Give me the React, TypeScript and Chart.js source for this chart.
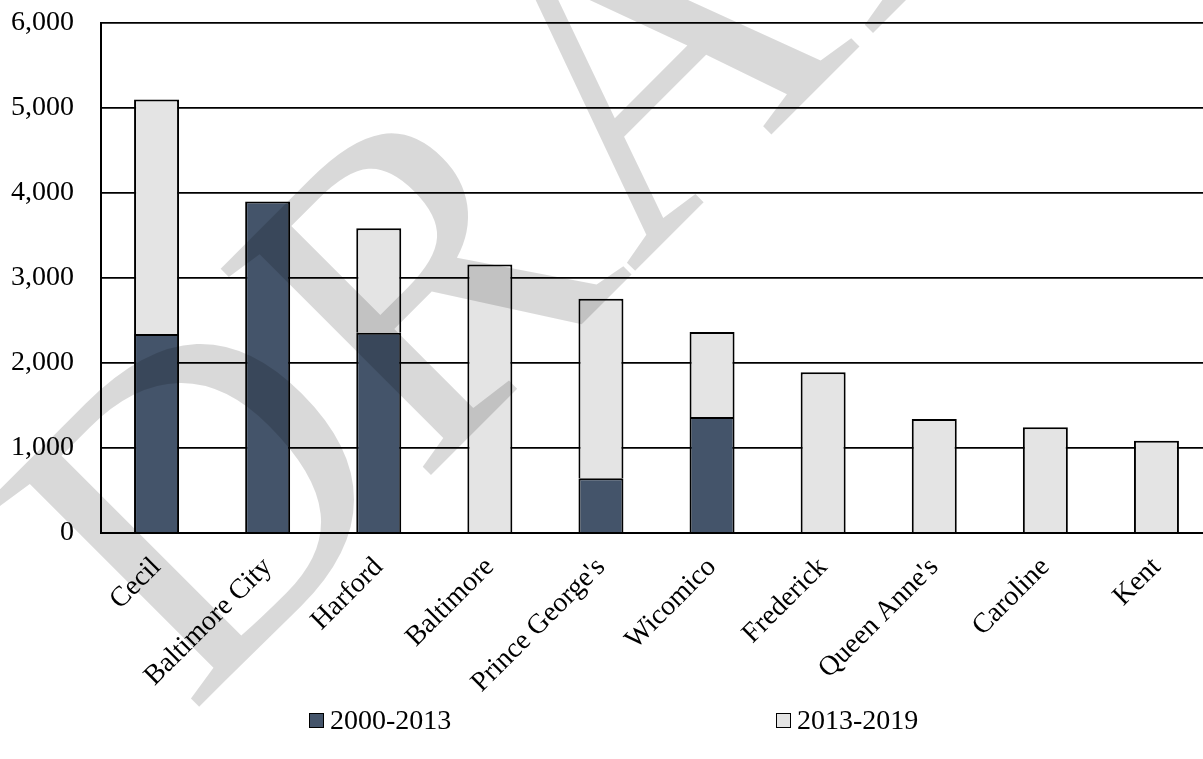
import React, { useEffect, useRef } from "react";
import { Chart, registerables } from "chart.js";

Chart.register(...registerables);

const categories = [
  "Cecil",
  "Baltimore City",
  "Harford",
  "Baltimore",
  "Prince George's",
  "Wicomico",
  "Frederick",
  "Queen Anne's",
  "Caroline",
  "Kent",
];
const seriesLabels = ["2000-2013", "2013-2019"];
const values2000to2013 = [2340, 3900, 2355, 0, 645, 1365, 0, 0, 0, 0];
const values2013to2019 = [2760, 0, 1230, 3160, 2110, 1000, 1890, 1340, 1245, 1085];
const yTickValues = [0, 1000, 2000, 3000, 4000, 5000, 6000];
const watermarkText = "DRAFT";

const FONT = "'Liberation Serif', 'Times New Roman', serif";
const DARK = "#44546A";
const LIGHT = "#E4E4E4";

const legendPlugin = {
  id: "customLegend",
  afterDraw(chart: any) {
    const ctx = chart.ctx;
    const xs = [309, 776];
    ctx.save();
    chart.data.datasets.forEach((ds: any, i: number) => {
      const x = xs[i];
      const boxTop = 713;
      ctx.fillStyle = ds.backgroundColor;
      ctx.fillRect(x, boxTop, 15, 15);
      ctx.strokeStyle = "#000";
      ctx.lineWidth = 1;
      ctx.strokeRect(x + 0.5, boxTop + 0.5, 14, 14);
      ctx.fillStyle = "#000";
      ctx.font = `28px ${FONT}`;
      ctx.textBaseline = "alphabetic";
      ctx.textAlign = "left";
      ctx.fillText(ds.label, x + 21, 729);
    });
    ctx.restore();
  },
};

const watermarkPlugin = {
  id: "watermark",
  afterDraw(chart: any) {
    const ctx = chart.ctx;
    ctx.save();
    ctx.translate(190, 716);
    ctx.rotate((-45 * Math.PI) / 180);
    ctx.font = `450px ${FONT}`;
    ctx.fillStyle = "rgba(0,0,0,0.15)";
    ctx.textBaseline = "alphabetic";
    ctx.textAlign = "left";
    ctx.fillText(watermarkText, 0, 0);
    ctx.restore();
  },
};

export default function App() {
  const canvasRef = useRef<HTMLCanvasElement | null>(null);

  useEffect(() => {
    if (!canvasRef.current) return;
    const chart = new Chart(canvasRef.current, {
      type: "bar",
      data: {
        labels: categories,
        datasets: [
          {
            label: seriesLabels[0],
            data: values2000to2013,
            backgroundColor: DARK,
            borderColor: "#000",
            borderWidth: 2,
            borderSkipped: "start",
            barPercentage: 0.405,
            categoryPercentage: 1,
          },
          {
            label: seriesLabels[1],
            data: values2013to2019,
            backgroundColor: LIGHT,
            borderColor: "#000",
            borderWidth: 2,
            borderSkipped: "start",
            barPercentage: 0.405,
            categoryPercentage: 1,
          },
        ],
      },
      options: {
        responsive: false,
        animation: false,
        layout: { padding: { top: 23, right: 3, left: 0, bottom: 0 } },
        plugins: {
          legend: { display: false },
          tooltip: { enabled: false },
        },
        scales: {
          x: {
            stacked: true,
            grid: { display: false, drawTicks: false },
            border: { display: true, color: "#000", width: 2 },
            ticks: {
              color: "#000",
              font: { family: FONT, size: 28 },
              maxRotation: 45,
              minRotation: 45,
              padding: 18,
              autoSkip: false,
            },
            afterFit(scale: any) {
              scale.height = 226;
            },
          },
          y: {
            stacked: true,
            min: 0,
            max: 6000,
            afterBuildTicks(scale: any) {
              scale.ticks = yTickValues.map((v) => ({ value: v }));
            },
            grid: { color: "#000", lineWidth: 1.8, drawTicks: false },
            border: { display: true, color: "#000", width: 2 },
            ticks: {
              color: "#000",
              font: { family: FONT, size: 28 },
              padding: 27,
              callback: (v: any) => Number(v).toLocaleString("en-US"),
            },
            afterFit(scale: any) {
              scale.width = 101;
              scale.paddingTop = 0;
              scale.paddingBottom = 0;
            },
          },
        },
      },
      plugins: [legendPlugin, watermarkPlugin],
    } as any);
    return () => chart.destroy();
  }, []);

  return (
    <div
      style={{
        position: "fixed",
        left: 0,
        top: 0,
        width: 1203,
        height: 759,
        overflow: "hidden",
        background: "#fff",
      }}
    >
      <canvas ref={canvasRef} width={1215} height={759} style={{ display: "block" }} />
    </div>
  );
}
